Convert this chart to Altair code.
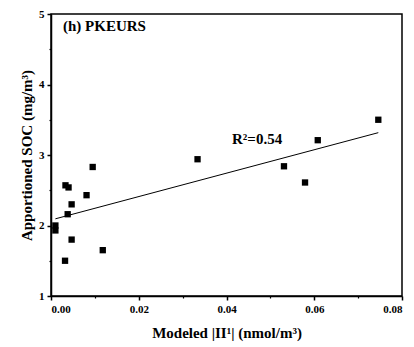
import altair as alt
import pandas as pd

x_vals = [0.0010, 0.0010, 0.0033, 0.0040, 0.0047, 0.0038, 0.0081, 0.0095,
          0.0047, 0.0118, 0.0032, 0.0334, 0.0531, 0.0579, 0.0608, 0.0746]
y_vals = [2.00, 1.93, 2.57, 2.54, 2.30, 2.16, 2.43, 2.83,
          1.80, 1.65, 1.50, 2.94, 2.84, 2.61, 3.21, 3.50]

x_major = [0.00, 0.02, 0.04, 0.06, 0.08]
x_minor = [0.01, 0.03, 0.05, 0.07]
y_major = [1, 2, 3, 4, 5]
y_minor = [1.5, 2.5, 3.5, 4.5]

panel_label = "(h) PKEURS"
r2_label = "R²=0.54"
x_title = "Modeled |II¹| (nmol/m³)"
y_title = "Apportioned SOC (mg/m³)"

df = pd.DataFrame({"x": x_vals, "y": y_vals})
FONT = "Liberation Serif"

xs = alt.Scale(domain=[0, 0.08], nice=False, zero=False)
ys = alt.Scale(domain=[1, 5], nice=False, zero=False)

base = alt.Chart(df)

points = base.mark_square(size=40, color="black", opacity=1).encode(
    x=alt.X("x:Q", scale=xs, axis=alt.Axis(
        orient="bottom",
        values=x_major, format=".2f", title=x_title, grid=False,
        tickSize=4, tickWidth=1.5, tickColor="black", domainColor="black", domainWidth=1.5,
        labelFont=FONT, labelFontWeight="bold", labelFontSize=11, labelColor="black", labelPadding=3,
        titleFont=FONT, titleFontWeight="bold", titleFontSize=15, titleColor="black", titlePadding=11)),
    y=alt.Y("y:Q", scale=ys, axis=alt.Axis(
        orient="left",
        values=y_major, format="d", title=y_title, grid=False,
        tickSize=4, tickWidth=1.5, tickColor="black", domainColor="black", domainWidth=1.5,
        labelFont=FONT, labelFontWeight="bold", labelFontSize=11, labelColor="black", labelPadding=3,
        titleFont=FONT, titleFontWeight="bold", titleFontSize=15, titleColor="black", titlePadding=4)),
)

minor = base.mark_point(opacity=0).encode(
    x=alt.X("x:Q", scale=xs, axis=alt.Axis(orient="bottom", values=x_minor, labels=False, title=None,
                                          grid=False, domain=False, tickSize=2, tickWidth=1.2,
                                          tickColor="black")),
    y=alt.Y("y:Q", scale=ys, axis=alt.Axis(orient="left", values=y_minor, labels=False, title=None,
                                          grid=False, domain=False, tickSize=2, tickWidth=1.2,
                                          tickColor="black")),
)

reg = base.transform_regression("x", "y", method="linear").mark_line(
    color="black", strokeWidth=1).encode(
    x=alt.X("x:Q", scale=xs, axis=None), y=alt.Y("y:Q", scale=ys, axis=None))

label_df = pd.DataFrame({"t": [panel_label]})
title_txt = alt.Chart(label_df).mark_text(
    font=FONT, fontWeight="bold", fontSize=15, align="left", baseline="middle", color="black"
).encode(text="t:N", x=alt.value(12), y=alt.value(12))

r2_df = pd.DataFrame({"t": [r2_label]})
r2_txt = alt.Chart(r2_df).mark_text(
    font=FONT, fontWeight="bold", fontSize=15, align="left", baseline="middle", color="black"
).encode(text="t:N", x=alt.value(181), y=alt.value(125))

chart = alt.layer(points, minor, reg, title_txt, r2_txt).resolve_axis(
    x="independent", y="independent"
).properties(
    width=351, height=282,
    autosize=alt.AutoSizeParams(type="none"),
    padding={"left": 51, "top": 14, "right": 12, "bottom": 51},
    background="white",
).configure_view(stroke="black", strokeWidth=1.5)

chart.save("out.html", embed_options={"renderer": "svg", "actions": False})
